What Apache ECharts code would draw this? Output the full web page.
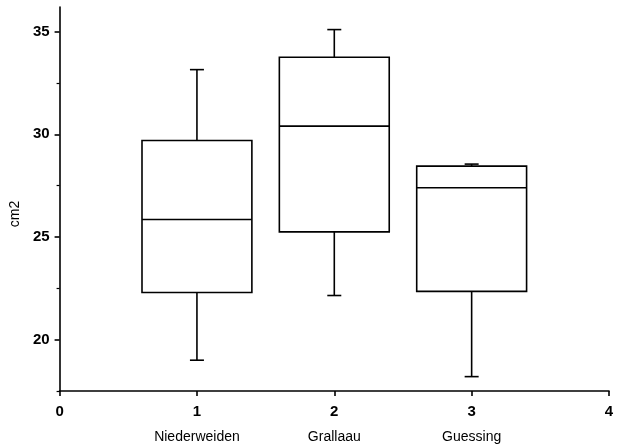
<!DOCTYPE html>
<html>
<head>
<meta charset="utf-8">
<script src="https://cdn.jsdelivr.net/npm/echarts@6/dist/echarts.min.js"></script>
<style>
html,body{margin:0;padding:0;background:#fff;}
#chart{width:637px;height:447px;}
</style>
</head>
<body>
<div id="chart"></div>
<script>
const categories = ['Niederweiden', 'Grallaau', 'Guessing'];
const positions = [1, 2, 3];
const whiskerLow = [19.0, 22.15, 18.2];
const q1 = [22.3, 25.25, 22.35];
const median = [25.85, 30.4, 27.4];
const q3 = [29.7, 33.75, 28.45];
const whiskerHigh = [33.15, 35.1, 28.55];
const yMajorTicks = [20, 25, 30, 35];
const yMinorTicks = [17.5, 22.5, 27.5, 32.5];

const boxData = positions.map((p, i) => [p, whiskerLow[i], q1[i], median[i], q3[i], whiskerHigh[i]]);

const chart = echarts.init(document.getElementById('chart'), null, {renderer: 'canvas'});
const lineStyle = {stroke: '#000', lineWidth: 1.6, fill: null};

function renderItem(params, api) {
  const x = api.value(0);
  const lo = api.coord([x, api.value(1)]);
  const b1 = api.coord([x, api.value(2)]);
  const md = api.coord([x, api.value(3)]);
  const b3 = api.coord([x, api.value(4)]);
  const hi = api.coord([x, api.value(5)]);
  const half = api.size([0.4, 0])[0];
  const cap = 7;
  const cx = lo[0];
  return {
    type: 'group',
    children: [
      {type: 'rect', shape: {x: cx - half, y: b3[1], width: half * 2, height: b1[1] - b3[1]}, style: {stroke: '#000', lineWidth: 1.6, fill: '#fff'}},
      {type: 'line', shape: {x1: cx - half, y1: md[1], x2: cx + half, y2: md[1]}, style: lineStyle},
      {type: 'line', shape: {x1: cx, y1: b3[1], x2: cx, y2: hi[1]}, style: lineStyle},
      {type: 'line', shape: {x1: cx, y1: b1[1], x2: cx, y2: lo[1]}, style: lineStyle},
      {type: 'line', shape: {x1: cx - cap, y1: hi[1], x2: cx + cap, y2: hi[1]}, style: lineStyle},
      {type: 'line', shape: {x1: cx - cap, y1: lo[1], x2: cx + cap, y2: lo[1]}, style: lineStyle}
    ]
  };
}

const option = {
  backgroundColor: '#fff',
  animation: false,
  grid: {left: 59, right: 28, top: 7, bottom: 56, containLabel: false},
  xAxis: {
    type: 'value', min: 0, max: 4, interval: 1,
    splitLine: {show: false},
    axisLine: {show: true, onZero: false, lineStyle: {color: '#000', width: 1.6}},
    axisTick: {show: true, length: 5, lineStyle: {color: '#000', width: 1.6}},
    axisLabel: {
      margin: 13,
      color: '#000',
      formatter: function (v) {
        const idx = positions.indexOf(v);
        return idx >= 0 ? '{n|' + v + '}\n{c|' + categories[idx] + '}' : '{n|' + v + '}\n{c| }';
      },
      rich: {
        n: {fontFamily: 'Liberation Sans', fontSize: 15, fontWeight: 'bold', lineHeight: 16, color: '#000'},
        c: {fontFamily: 'Liberation Sans', fontSize: 14, lineHeight: 35, color: '#000'}
      }
    }
  },
  yAxis: [{
    type: 'value', min: 17.5, max: 36.2,
    name: 'cm2', nameLocation: 'middle', nameGap: 36, nameRotate: 90,
    nameTextStyle: {fontFamily: 'Liberation Sans', fontSize: 14, color: '#000', padding: [0, 30, 0, 0]},
    splitLine: {show: false},
    axisLine: {show: true, onZero: false, lineStyle: {color: '#000', width: 1.6}},
    axisTick: {show: true, length: 5, customValues: yMajorTicks, lineStyle: {color: '#000', width: 1.6}},
    axisLabel: {margin: 10, customValues: yMajorTicks, fontFamily: 'Liberation Sans', fontSize: 15, fontWeight: 'bold', color: '#000'}
  }, {
    type: 'value', min: 17.5, max: 36.2, position: 'left',
    splitLine: {show: false},
    axisLine: {show: false},
    axisTick: {show: true, length: 3, customValues: yMinorTicks, lineStyle: {color: '#000', width: 1.2}},
    axisLabel: {show: false}
  }],
  series: [{
    type: 'custom',
    renderItem: renderItem,
    encode: {x: 0, y: [1, 2, 3, 4, 5]},
    data: boxData,
    z: 3
  }]
};
chart.setOption(option);
</script>
</body>
</html>
